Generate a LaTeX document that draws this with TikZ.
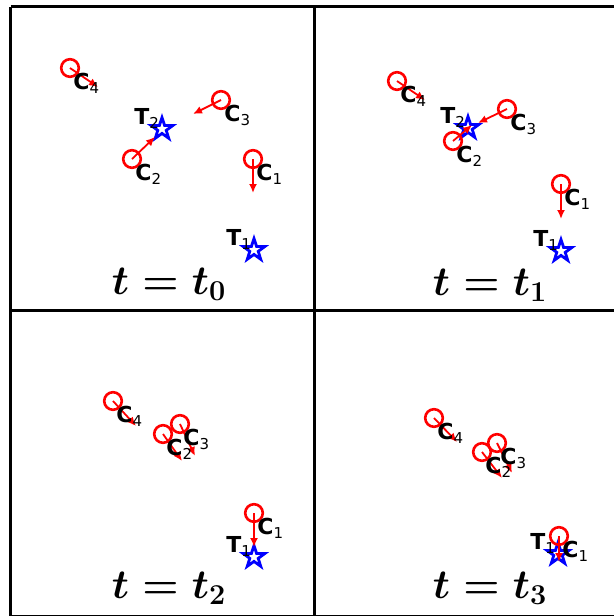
\documentclass[tikz,border=0pt]{standalone}
\usepackage{fontspec}
\setmainfont{DejaVu Sans}
\usetikzlibrary{shapes.geometric, arrows.meta, calc}

\newcommand{\sublbl}[2]{{\bfseries #1}\raisebox{-2.2pt}{\fontsize{7.5}{7.5}\selectfont #2}}

\begin{document}
\begin{tikzpicture}[
    x=0.5pt, y=-0.5pt,
    frame/.style={line width=1.5pt, black},
    agent/.style={draw=red, circle, line width=1.3pt, minimum size=8.8pt, inner sep=0pt},
    target/.style={draw=blue, fill=white, star, star points=5, star point ratio=2.6, line width=1.4pt, minimum size=11.5pt, inner sep=0pt},
    vel/.style={red, line width=0.9pt, -{Latex[length=4.5pt, width=4pt]}},
    clbl/.style={anchor=base west, inner sep=0pt, font=\fontsize{11}{12}\selectfont},
    title/.style={anchor=base, inner sep=0pt, font=\fontsize{22}{26}\selectfont\boldmath}
]
    \useasboundingbox (0,0) rectangle (614,616);

    % Frames
    \draw[frame] (10.5,6.5) -- (620,6.5);
    \draw[frame] (10.5,6.5) -- (10.5,616);
    \draw[frame] (314.5,6.5) -- (314.5,616);
    \draw[frame] (10.5,310.5) -- (620,310.5);
    \draw[frame] (10.5,616) -- (620,616);

    % Panel t0
    \node[target] (p0t1) at (254,250) {};
    \node[target] (p0t2) at (162,129) {};
    \node[agent] (p0c1) at (253,159) {};
    \node[agent] (p0c2) at (132,159) {};
    \node[agent] (p0c3) at (221,100) {};
    \node[agent] (p0c4) at (70,68) {};
    \coordinate (p0v1) at (253,193);
    \coordinate (p0v2) at (155,137);
    \coordinate (p0v3) at (193,114);
    \coordinate (p0v4) at (98,87);
    \draw[vel] (p0c1.center) -- (p0v1);
    \draw[vel] (p0c2.center) -- (p0v2);
    \draw[vel] (p0c3.center) -- (p0v3);
    \draw[vel] (p0c4.center) -- (p0v4);
    \node[clbl] (p0c1l) at ($(p0c1)+(3,21)$) {\sublbl{C}{1}};
    \node[clbl] (p0c2l) at ($(p0c2)+(3,21)$) {\sublbl{C}{2}};
    \node[clbl] (p0c3l) at ($(p0c3)+(3,21)$) {\sublbl{C}{3}};
    \node[clbl] (p0c4l) at ($(p0c4)+(3,21)$) {\sublbl{C}{4}};
    \node[clbl] (p0t1l) at ($(p0t1)+(-28,-5)$) {\sublbl{T}{1}};
    \node[clbl] (p0t2l) at ($(p0t2)+(-28,-5)$) {\sublbl{T}{2}};
    \node[title] (title0) at (169,294) {$t = t_0$};

    % Panel t1
    \node[target] (p1t1) at (561,251) {};
    \node[target] (p1t2) at (468,128) {};
    \node[agent] (p1c1) at (561,184) {};
    \node[agent] (p1c2) at (453,141) {};
    \node[agent] (p1c3) at (507,109) {};
    \node[agent] (p1c4) at (397,81) {};
    \coordinate (p1v1) at (561,219);
    \coordinate (p1v2) at (472,125);
    \coordinate (p1v3) at (478,123);
    \coordinate (p1v4) at (425,100);
    \draw[vel] (p1c1.center) -- (p1v1);
    \draw[vel] (p1c2.center) -- (p1v2);
    \draw[vel] (p1c3.center) -- (p1v3);
    \draw[vel] (p1c4.center) -- (p1v4);
    \node[clbl] (p1c1l) at ($(p1c1)+(3,21)$) {\sublbl{C}{1}};
    \node[clbl] (p1c2l) at ($(p1c2)+(3,21)$) {\sublbl{C}{2}};
    \node[clbl] (p1c3l) at ($(p1c3)+(3,21)$) {\sublbl{C}{3}};
    \node[clbl] (p1c4l) at ($(p1c4)+(3,21)$) {\sublbl{C}{4}};
    \node[clbl] (p1t1l) at ($(p1t1)+(-28,-5)$) {\sublbl{T}{1}};
    \node[clbl] (p1t2l) at ($(p1t2)+(-28,-5)$) {\sublbl{T}{2}};
    \node[title] (title1) at (490,295) {$t = t_1$};

    % Panel t2
    \node[target] (p2t1) at (254,557) {};
    \node[agent] (p2c1) at (254,513) {};
    \node[agent] (p2c2) at (163,434) {};
    \node[agent] (p2c3) at (180,424) {};
    \node[agent] (p2c4) at (113,401) {};
    \coordinate (p2v1) at (254,547);
    \coordinate (p2v2) at (182,461);
    \coordinate (p2v3) at (195,456);
    \coordinate (p2v4) at (136,426);
    \draw[vel] (p2c1.center) -- (p2v1);
    \draw[vel] (p2c2.center) -- (p2v2);
    \draw[vel] (p2c3.center) -- (p2v3);
    \draw[vel] (p2c4.center) -- (p2v4);
    \node[clbl] (p2c1l) at ($(p2c1)+(3,21)$) {\sublbl{C}{1}};
    \node[clbl] (p2c3l) at ($(p2c3)+(3,21)$) {\sublbl{C}{3}};
    \node[clbl] (p2c2l) at ($(p2c2)+(3,21)$) {\sublbl{C}{2}};
    \node[clbl] (p2c4l) at ($(p2c4)+(3,21)$) {\sublbl{C}{4}};
    \node[clbl] (p2t1l) at ($(p2t1)+(-28,-5)$) {\sublbl{T}{1}};
    \node[title] (title2) at (169,598) {$t = t_2$};

    % Panel t3
    \node[target] (p3t1) at (558,554) {};
    \node[agent] (p3c1) at (559,536) {};
    \node[agent] (p3c2) at (482,452) {};
    \node[agent] (p3c3) at (497,443) {};
    \node[agent] (p3c4) at (434,418) {};
    \coordinate (p3v1) at (559,562);
    \coordinate (p3v2) at (502,478);
    \coordinate (p3v3) at (512,473);
    \coordinate (p3v4) at (457,442);
    \draw[vel] (p3c1.center) -- (p3v1);
    \draw[vel] (p3c2.center) -- (p3v2);
    \draw[vel] (p3c3.center) -- (p3v3);
    \draw[vel] (p3c4.center) -- (p3v4);
    \node[clbl] (p3t1l) at ($(p3t1)+(-28,-5)$) {\sublbl{T}{1}};
    \node[clbl] (p3c1l) at ($(p3c1)+(3,21)$) {\sublbl{C}{1}};
    \node[clbl] (p3c3l) at ($(p3c3)+(3,21)$) {\sublbl{C}{3}};
    \node[clbl] (p3c2l) at ($(p3c2)+(3,21)$) {\sublbl{C}{2}};
    \node[clbl] (p3c4l) at ($(p3c4)+(3,21)$) {\sublbl{C}{4}};
    \node[title] (title3) at (490,598) {$t = t_3$};
\end{tikzpicture}
\end{document}
